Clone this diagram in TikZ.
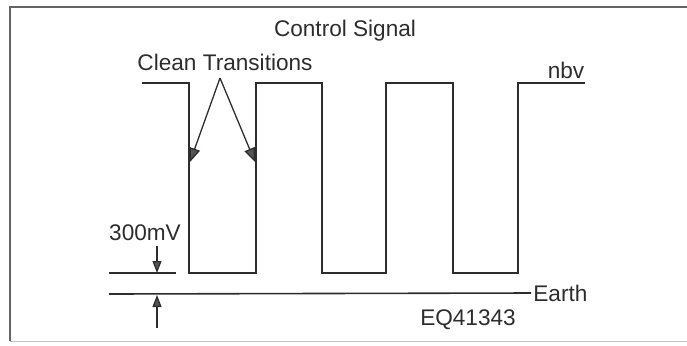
\documentclass[tikz,border=0pt]{standalone}
\usepackage{fontspec}
\setmainfont{Liberation Sans}
\usetikzlibrary{positioning,arrows.meta}
\definecolor{Ink}{RGB}{45, 45, 45}
\definecolor{Tip}{RGB}{85, 85, 85}
\definecolor{Edge}{RGB}{100, 100, 100}

\begin{document}
\begin{tikzpicture}[x=0.5pt,y=-0.5pt,
    lbl/.style={font=\fontsize{11.3}{13}\selectfont,text=Ink,inner sep=1pt},
    sig/.style={draw=Ink,line width=0.8pt},
    tipped/.style={draw=Ink,line width=0.65pt,-{Triangle[length=7pt,width=5.5pt,fill=Tip]}},
    small tip/.style={draw=Ink,line width=0.65pt,-{Triangle[length=6pt,width=4.5pt,fill=Tip]}}]
        \useasboundingbox (0,0) rectangle (687,345);
        % frame
        \draw[Edge,line width=0.6pt] (10,341) -- (10,7) -- (687,7);
        \draw[Edge!40,line width=0.4pt] (10,341) -- (687,341);
        % square wave
        \draw[sig] (142,83) -- (189,83) -- (189,273) -- (256,273) -- (256,83)
          -- (322,83) -- (322,273) -- (386,273) -- (386,83) -- (453,83)
          -- (453,273) -- (518,273) -- (518,83) -- (585,83);
        \node[lbl] (title) at (345,31) {Control Signal};
        \node[lbl] (clean) at (225,62) {Clean Transitions};
        \node[lbl] (nbv) at (566,70) {nbv};
        % clean transition arrows
        \coordinate (apex) at (220,78);
        \coordinate (fall) at (190,162);
        \coordinate (rise) at (255,162);
        \draw[tipped] (apex) -- (fall);
        \draw[tipped] (apex) -- (rise);
        % 300mV offset above earth
        \node[lbl] (offset) at (145,233) {300mV};
        \coordinate (lowL) at (109,273);
        \coordinate (lowR) at (176,273);
        \draw[sig] (lowL) -- (lowR);
        \node[lbl,anchor=west] (earth) at (531,293) {Earth};
        \coordinate (earthL) at (109,294);
        \draw[sig] (earthL) -- (earth.west);
        \coordinate (dnTop) at (157,246);
        \coordinate (dnTip) at (157,273);
        \coordinate (upTail) at (157,328);
        \coordinate (upTip) at (157,295);
        \draw[small tip] (dnTop) -- (dnTip);
        \draw[small tip] (upTail) -- (upTip);
        \node[lbl] (code) at (468,320) {EQ41343};
      \end{tikzpicture}
\end{document}
